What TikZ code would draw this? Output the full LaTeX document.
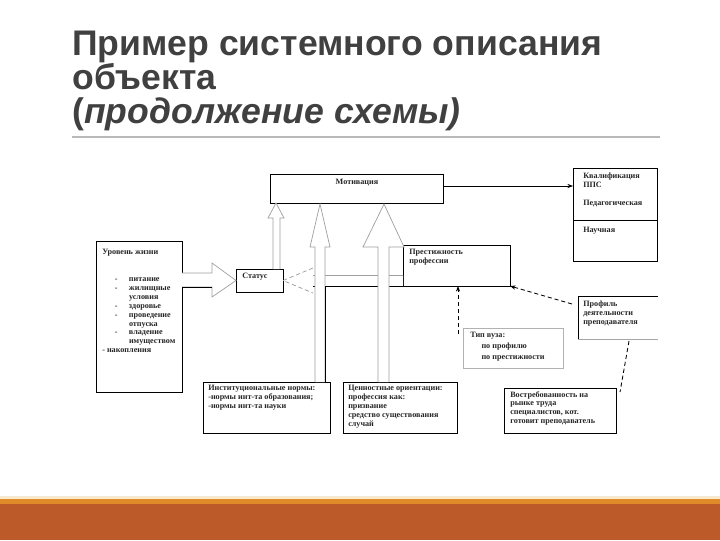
\documentclass[tikz,border=0pt]{standalone}
\usepackage{fontspec}
\setmainfont{Liberation Serif}
\newfontfamily\titlefont{Liberation Sans}
\usetikzlibrary{arrows.meta,fit,calc}

\definecolor{titlegray}{HTML}{404040}
\definecolor{rust}{HTML}{BD5A2A}
\definecolor{amber}{HTML}{E08A2A}
\definecolor{cream}{HTML}{F7E9CC}

\newcommand{\lvlitem}[1]{\makebox[19pt][l]{\hspace*{9pt}-}#1}
\newcommand{\lvlcont}[1]{\hspace*{19pt}#1}

\tikzset{
  box/.style={draw, line width=0.6pt, inner sep=0pt, outer sep=0pt},
  greybox/.style={draw=gray!60, line width=0.6pt, inner sep=0pt, outer sep=0pt},
  txt/.style={anchor=north west, inner sep=0pt, align=left, text=black!85,
    font=\bfseries\fontsize{5.8}{6.3}\selectfont},
  headline/.style={anchor=base west, inner sep=0pt, text=titlegray,
    font=\titlefont\bfseries\fontsize{25.3}{26}\selectfont},
  blockarrow/.style={draw=gray!75, fill=white, line width=0.5pt},
  dasharrow/.style={densely dashed, line width=0.6pt, -{Stealth[length=4pt,width=3pt]}}
}

\begin{document}
\begin{tikzpicture}[x=0.025cm, y=-0.025cm]
  \useasboundingbox (0,0) rectangle (720,540);

  % title
  \node[headline] (title1) at (72,55) {Пример системного описания};
  \node[headline] (title2) at (72,89) {объекта};
  \node[headline] (title3) at (72,123) {({\itshape продолжение схемы)}};
  \draw[gray!55, line width=0.8pt] (72,137) -- (660,137);

  % bottom band
  \fill[cream] (0,496) rectangle (720,499);
  \fill[amber] (0,499) rectangle (720,504);
  \fill[rust] (0,504) rectangle (720,540);

  % boxes
  \node[box, fit={(270,174) (443,203)}] (motiv) {};
  \node[box, fit={(573,168) (657,261)}] (qual) {};
  \draw[line width=0.6pt] (qual.west |- 0,220) -- (qual.east |- 0,220);
  \node[box, fit={(96,241) (182,392)}] (lvl) {};
  \node[box, fit={(236,269) (283,292)}] (status) {};
  \node[box, fit={(403,245) (510,286)}] (prest) {};
  \node[greybox, fit={(463,328) (563,368)}] (uni) {};
  \node[inner sep=0pt, outer sep=0pt, fit={(578,296) (658,339)}] (prof) {};
  \draw[line width=0.6pt] (prof.north east) -- (prof.north west) -- (prof.south west);
  \draw[gray!70, line width=0.6pt] (prof.south west) -- (prof.south east);
  \node[box, fit={(203,382) (330,433)}] (inst) {};
  \node[box, fit={(343,382) (457,433)}] (value) {};
  \node[box, fit={(504,388) (616,433)}] (demand) {};

  % texts
  \node[txt, anchor=center] (motivtxt) at (357,183) {Мотивация};
  \node[txt] (qualtxt) at (583,173) {Квалификация\\ППС\\[6.3pt]Педагогическая};
  \node[txt] (scitxt) at (583,227) {Научная};
  \node[txt] (lvltxt) at (102,249) {Уровень жизни\\[13pt]
    \lvlitem{питание}\\\lvlitem{жилищные}\\\lvlcont{условия}\\
    \lvlitem{здоровье}\\\lvlitem{проведение}\\\lvlcont{отпуска}\\
    \lvlitem{владение}\\\lvlcont{имуществом}\\- накопления};
  \node[txt] (statustxt) at (242,273) {Статус};
  \node[txt] (presttxt) at (409,249) {Престижность\\профессии};
  \node[txt] (unitxt) at (470,332) {Тип вуза:\\[1.5pt]\hspace*{8pt}по профилю\\[1.5pt]\hspace*{8pt}по престижности};
  \node[txt] (proftxt) at (583,301) {Профиль\\деятельности\\преподавателя};
  \node[txt] (insttxt) at (208,385) {Институциональные нормы:\\-нормы инт-та образования;\\-нормы инт-та науки};
  \node[txt] (valuetxt) at (348,385) {Ценностные ориентации:\\профессия как:\\призвание\\средство существования\\случай};
  \node[txt] (demandtxt) at (510,391) {Востребованность на\\рынке труда\\специалистов, кот.\\готовит преподаватель};

  % block arrows
  \draw[blockarrow] (182,273) -- (212,273) -- (212,263) -- (status.west)
    -- (212,297) -- (212,287) -- (182,287);
  \draw[black, line width=0.5pt] (182,287) -- (212,287);
  \draw[blockarrow] (273,269) -- (273,218) -- (268,218) -- (276,203)
    -- (284,218) -- (280,218) -- (280,269);
  \fill[white] (403,275) -- (313,275) -- (313,268) -- (status.east)
    -- (313,293) -- (313,286) -- (403,286) -- cycle;
  \draw[gray!75, line width=0.5pt] (403,275) -- (313,275);
  \draw[gray!80, densely dashed, line width=0.5pt] (313,268) -- (status.east) -- (313,293);
  \draw[black, line width=0.6pt] (313,286) -- (403,286);
  \draw[blockarrow] (315,382) -- (315,247) -- (310,247) -- (320,204)
    -- (330,247) -- (325,247) -- (325,382);
  \draw[black, line width=0.6pt] (325,286) -- (325,382);
  \draw[blockarrow] (378,382) -- (378,247) -- (363,247) -- (384,204)
    -- (404,247) -- (389,247) -- (389,382);

  % connectors
  \draw[line width=0.6pt, -{Stealth[length=4pt,width=3pt]}] (motiv.east |- 0,186) -- (qual.west |- 0,186);
  \coordinate (unifoot) at (458,334);
  \draw[dasharrow] (unifoot) -- (unifoot |- prest.south);
  \draw[dasharrow] ($(prof.north west)+(-6,8)$) -- (prest.south east);
  \draw[densely dashed, line width=0.6pt] ($(prof.south west)+(51,2)$) -- ($(demand.north east)+(4,4)$);
\end{tikzpicture}
\end{document}
